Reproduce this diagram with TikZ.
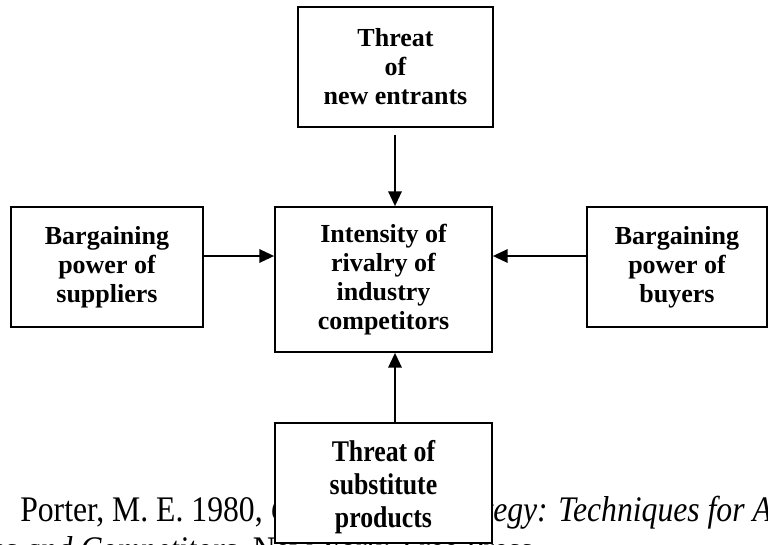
\documentclass[tikz,border=0pt]{standalone}
\usepackage{fontspec}
\setmainfont{Liberation Serif}
\newfontfamily\tallfont[FakeStretch=0.86]{Liberation Serif}
\newfontfamily\citefont[FakeStretch=0.88]{Liberation Serif}
\usetikzlibrary{arrows.meta}

\begin{document}
\begin{tikzpicture}[x=0.75pt, y=-0.75pt,
  force/.style={draw, line width=1.3pt, fill=white, align=center, inner sep=0pt,
    font=\bfseries\fontsize{19.5}{21.8}\selectfont},
  lowforce/.style={force, font=\tallfont\bfseries\fontsize{22.5}{24.6}\selectfont},
  push/.style={line width=1.3pt, -{Triangle[length=11pt, width=10pt]}},
  cite/.style={inner sep=0pt, anchor=base west,
    font=\citefont\fontsize{27}{30}\selectfont}]
  \useasboundingbox (0,0) rectangle (768,544);
  \clip (0,0) rectangle (768,544);

  % reference line underneath the lower box
  \node[cite] (ref1) at (20,521)
    {Porter, M. E. 1980, \textit{Competitive Strategy: Techniques for Analyzing}};
  \node[cite] (ref2) at (-110,561)
    {\textit{Industries and Competitors}, New York: Free Press.};

  % the five forces (sizes in pt: 1 unit here is 0.75pt)
  \node[force, minimum width=146.25pt, minimum height=90pt] (entrants) at (395.5,67)
    {Threat\\of\\new entrants};
  \node[force, minimum width=162.75pt, minimum height=108.75pt] (rivalry) at (383.5,279.5)
    {Intensity of\\rivalry of\\industry\\competitors};
  \node[force, minimum width=144pt, minimum height=90pt] (suppliers) at (107,267)
    {Bargaining\\power of\\suppliers};
  \node[force, minimum width=135pt, minimum height=90pt] (buyers) at (677,267)
    {Bargaining\\power of\\buyers};
  \node[lowforce, minimum width=162.75pt, minimum height=90pt] (substitutes) at (383.5,483)
    {\rule{0pt}{22pt}Threat of\\substitute\\products};

  % arrows into the centre box
  \coordinate (vline) at (395,0);
  \coordinate (hline) at (0,256);
  \draw[push, shorten <=5pt] (vline |- entrants.south) -- (vline |- rivalry.north);
  \draw[push] (hline -| suppliers.east) -- (hline -| rivalry.west);
  \draw[push] (hline -| buyers.west) -- (hline -| rivalry.east);
  \draw[push] (vline |- substitutes.north) -- (vline |- rivalry.south);
\end{tikzpicture}
\end{document}
